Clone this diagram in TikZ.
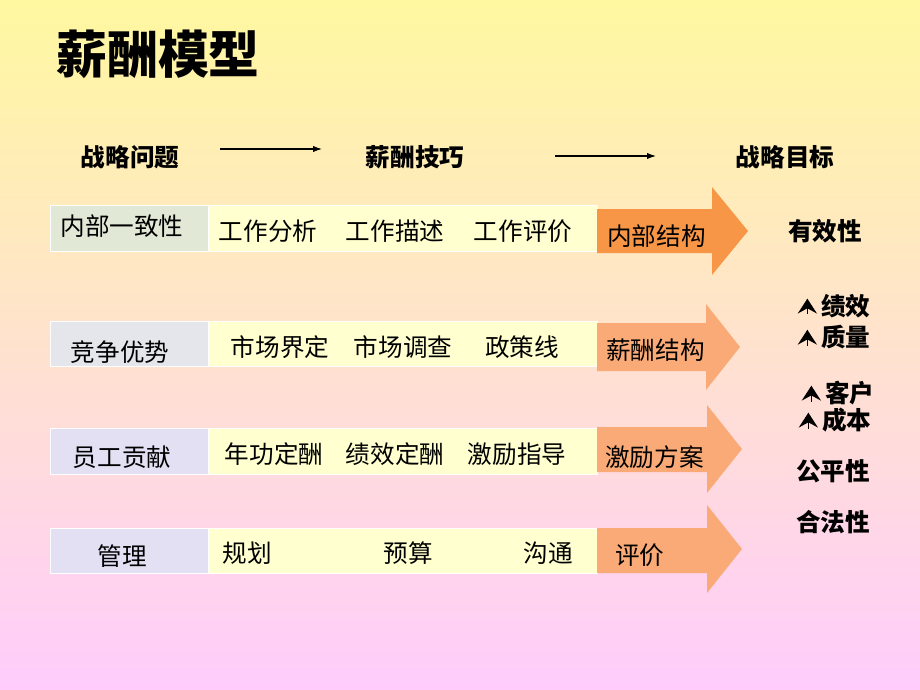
\documentclass[tikz,border=0pt]{standalone}
\usepackage{fontspec}
\usepackage{xcolor}
\usepackage{tikz}
\usetikzlibrary{arrows.meta,shapes,backgrounds,fit}
\setmainfont{Noto Sans CJK SC}
\newfontfamily\cjk{Noto Sans CJK SC}

\definecolor{bgtop}{RGB}{255,248,160}
\definecolor{bgbottom}{RGB}{255,204,252}
\definecolor{labgreen}{RGB}{226,232,214}
\definecolor{labgrey}{RGB}{229,230,236}
\definecolor{labviolet}{RGB}{227,224,244}
\definecolor{skillyellow}{RGB}{255,255,208}
\definecolor{arrowdark}{RGB}{248,150,72}
\definecolor{arrowlight}{RGB}{250,170,118}

% small up-pointing mark used before the goals
\newcommand{\goalmark}{\tikz[baseline=-1pt,x=1pt,y=1pt]{\fill (0,0) -- (5.5,8.5) -- (11,0) -- (5.5,3) -- cycle; \draw[line width=0.7pt] (5.5,8.5) -- (5.5,-0.5);}\,}

\begin{document}
\begin{tikzpicture}[x=0.02cm,y=-0.02cm]
		\tikzstyle{title}=[font=\cjk\bfseries\fontsize{29}{31}\selectfont, inner sep=0pt]
		\tikzstyle{head}=[font=\cjk\bfseries\fontsize{14}{16}\selectfont, inner sep=0pt]
		\tikzstyle{txt}=[font=\cjk\fontsize{14}{16}\selectfont, inner sep=0pt]
		\tikzstyle{goal}=[head]
		\tikzstyle{labelbox}=[draw=white, thin]
		\tikzstyle{skillbox}=[draw=white, thin, fill=skillyellow]
		\tikzstyle{bigarrow}=[fill=arrowlight]
		\tikzstyle{flow}=[semithick, -{Latex[length=5pt,width=3.5pt]}]

		% background
		\shade[top color=bgtop, bottom color=bgbottom] (0,0) rectangle (920,690);
		\useasboundingbox (0,0) rectangle (920,690);

		\node [title] (title) at (158,54) {薪酬模型};

		% header line
		\node [head] (issue) at (130,157) {战略问题};
		\node [head] (skill) at (415,157) {薪酬技巧};
		\node [head] (target) at (785,157) {战略目标};
		\coordinate (f1s) at (220,149);
		\coordinate (f1e) at (322,149);
		\coordinate (f2s) at (555,156);
		\coordinate (f2e) at (656,156);
		\draw [flow] (f1s) -- (f1e);
		\draw [flow] (f2s) -- (f2e);

		% row 1
		\draw [labelbox, fill=labgreen] (50,205) rectangle (208,251);
		\draw [skillbox] (208,205) rectangle (597,251);
		\fill [bigarrow, fill=arrowdark] (597,209) -- (712,209) -- (712,187) -- (748,231) -- (712,275) -- (712,253) -- (597,253) -- cycle;
		\node [txt] (inner) at (122,226) {内部一致性};
		\node [txt] (jobana) at (268,231) {工作分析};
		\node [txt] (jobdes) at (395,231) {工作描述};
		\node [txt] (jobeva) at (523,231) {工作评价};
		\node [txt, anchor=west] (struct1) at (607,236) {内部结构};

		% row 2
		\draw [labelbox, fill=labgrey] (50,321) rectangle (208,366);
		\draw [skillbox] (208,321) rectangle (597,366);
		\fill [bigarrow] (597,323) -- (706,323) -- (706,304) -- (740,347) -- (706,390) -- (706,371) -- (597,371) -- cycle;
		\node [txt] (compete) at (120,352) {竞争优势};
		\node [txt] (market) at (280,347) {市场界定};
		\node [txt] (survey) at (403,347) {市场调查};
		\node [txt] (policy) at (522,347) {政策线};
		\node [txt, anchor=west] (struct2) at (606,350) {薪酬结构};

		% row 3
		\draw [labelbox, fill=labviolet] (50,428) rectangle (208,474);
		\draw [skillbox] (208,428) rectangle (597,474);
		\fill [bigarrow] (597,427) -- (707,427) -- (707,405) -- (742,449) -- (707,493) -- (707,472) -- (597,472) -- cycle;
		\node [txt] (contrib) at (122,457) {员工贡献};
		\node [txt] (senior) at (274,454) {年功定酬};
		\node [txt] (perform) at (395,454) {绩效定酬};
		\node [txt] (incent) at (517,454) {激励指导};
		\node [txt, anchor=west] (plan) at (605,457) {激励方案};

		% row 4
		\draw [labelbox, fill=labviolet] (50,528) rectangle (208,573);
		\draw [skillbox] (208,528) rectangle (597,573);
		\fill [bigarrow] (597,528) -- (707,528) -- (707,505) -- (742,549) -- (707,593) -- (707,573) -- (597,573) -- cycle;
		\node [txt] (manage) at (122,556) {管理};
		\node [txt] (program) at (247,553) {规划};
		\node [txt] (budget) at (408,553) {预算};
		\node [txt] (commun) at (548,553) {沟通};
		\node [txt, anchor=west] (assess) at (615,555) {评价};

		% goals
		\node [goal] (effect) at (825,231) {有效性};
		\node [goal] (g1) at (834,306) {\goalmark 绩效};
		\node [goal] (g2) at (834,337) {\goalmark 质量};
		\node [goal] (g3) at (838,393) {\goalmark 客户};
		\node [goal] (g4) at (835,420) {\goalmark 成本};
		\node [goal] (fair) at (833,471) {公平性};
		\node [goal] (legal) at (833,522) {合法性};

	\end{tikzpicture}
\end{document}
